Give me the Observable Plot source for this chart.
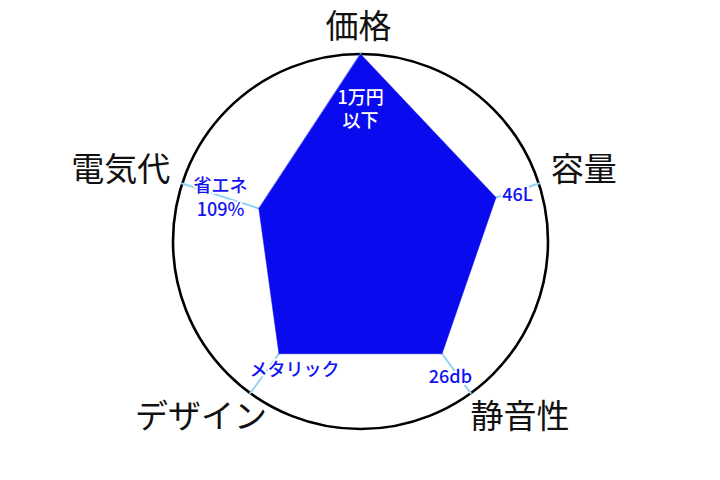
<!DOCTYPE html>
<html><head><meta charset="utf-8">
<script src="https://cdn.jsdelivr.net/npm/d3@7"></script>
<script src="https://cdn.jsdelivr.net/npm/@observablehq/plot@0.6"></script>
<style>html,body{margin:0;padding:0;background:#fff}#chart svg{display:block}</style>
</head><body><div id="chart"></div>
<script>
// ---- data ----
const axes = ["価格", "容量", "静音性", "デザイン", "電気代"];
const scores = [100, 76, 74, 74, 57];
const valueLabels = ["1万円\n以下", "46L", "26db", "メタリック", "省エネ\n109%"];
const maxScore = 100;

// ---- layout (pixels relative to the chart centre, y up) ----
const R = 187.5;          // outer circle radius
const rLabel = 200;       // axis label radius
const axisNudge = [[-2, 14], [0, 9], [42, -14], [-42, -14], [0, 9]];
const axisAnchor = ["middle", "start", "middle", "middle", "end"];
const valueNudge = [[0, 0], [0, -3], [-6, -2], [30, 5], [0, 0]];

const rows = axes.map((name, i) => {
  const a = Math.PI / 2 - i * 2 * Math.PI / 5;
  const c = Math.cos(a), s = Math.sin(a);
  const rv = scores[i] / maxScore * R;
  const full = scores[i] >= maxScore;
  const rt = full ? R - 54 : (rv + R) / 2;
  return {
    name, i, full,
    vx: rv * c, vy: rv * s,
    ex: R * c, ey: R * s,
    tx: rt * c + valueNudge[i][0], ty: rt * s + valueNudge[i][1],
    lx: rLabel * c + axisNudge[i][0], ly: rLabel * s + axisNudge[i][1],
    anchor: axisAnchor[i],
    label: valueLabels[i]
  };
});

const font = "'Noto Sans CJK JP', 'Noto Sans', sans-serif";
const blue = "#0a0aee";
const textBlue = "#1212f4";
const sky = "#8fd3f2";

const axisText = (anchor) => Plot.text(rows.filter(d => d.anchor === anchor), {
  x: "lx", y: "ly", text: "name", textAnchor: anchor, lineAnchor: "middle",
  fontSize: 33, fill: "#111", fontFamily: font
});

const chart = Plot.plot({
  width: 720, height: 480,
  margin: 0,
  x: {domain: [-360, 360], axis: null},
  y: {domain: [-239, 241], axis: null},
  style: {fontFamily: font, background: "#fff"},
  marks: [
    Plot.dot([0], {x: () => 0, y: () => 0, r: R, stroke: "#000", strokeWidth: 2.6, fill: "none"}),
    Plot.link(rows, {x1: "vx", y1: "vy", x2: "ex", y2: "ey", stroke: sky, strokeWidth: 2, strokeLinecap: "round"}),
    Plot.line(rows, {x: "vx", y: "vy", fill: blue, stroke: blue, strokeWidth: 0.5, curve: "linear-closed"}),
    Plot.text(rows.filter(d => !d.full), {
      x: "tx", y: "ty", text: "label", fill: textBlue, fontSize: 18, fontWeight: 500,
      lineHeight: 1.38, stroke: "#fff", strokeWidth: 4, paintOrder: "stroke", lineAnchor: "middle"
    }),
    Plot.text(rows.filter(d => d.full), {
      x: "tx", y: "ty", text: "label", fill: "#fff", fontSize: 18, fontWeight: 500,
      lineHeight: 1.3, lineAnchor: "middle"
    }),
    axisText("middle"),
    axisText("start"),
    axisText("end")
  ]
});
document.getElementById("chart").append(chart);
</script>
</body></html>
